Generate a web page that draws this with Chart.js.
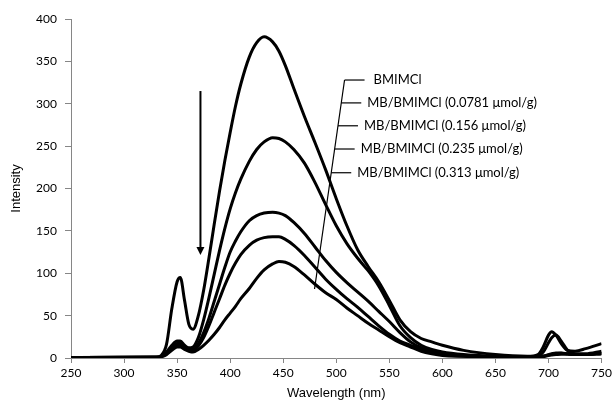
<!DOCTYPE html>
<html>
<head>
<meta charset="utf-8">
<script src="https://cdn.jsdelivr.net/npm/chart.js@4.4.1/dist/chart.umd.min.js"></script>
<style>
  html, body { margin: 0; padding: 0; background: #fff; }
  #chart { display: block; }
</style>
</head>
<body>
<canvas id="chart" width="615" height="411"></canvas>
<script>
// wavelength grid (nm)
const wavelengths = [250, 330, 335, 340, 345, 350, 353, 357, 361, 365, 370, 375, 380, 385, 390, 395, 400, 405, 410, 418, 425, 432, 440, 446, 452, 460, 470, 480, 490, 500, 510, 520, 530, 540, 550, 560, 570, 580, 590, 600, 620, 650, 680, 690, 695, 700, 703, 707, 712, 718, 725, 735, 750];

// intensities
const bmimcl = [0.5, 0.8, 3, 16, 58, 90, 95, 68, 40, 34, 50, 80, 118, 158, 197, 233, 266, 297, 323, 355, 372, 379, 373, 362, 345, 318, 285, 254, 222, 188, 156, 128, 108, 90, 68, 45, 31, 23, 19, 15, 9, 4, 2, 4, 13, 27, 31, 27, 17, 9, 8, 11, 17];
const mb0781 = [0.5, 0.8, 2, 7, 15, 20, 20, 15, 12, 13, 24, 45, 71, 99, 127, 153, 176, 195, 211, 232, 246, 255, 260, 259, 255, 246, 230, 207, 181, 156, 135, 118, 103, 85, 62, 38, 24, 15, 10, 7, 4, 2, 1, 2, 7, 18, 24, 27, 20, 9, 5, 5, 8];
const mb156 = [0.5, 0.8, 2, 6, 13, 17, 17, 13, 10, 10, 17, 30, 47, 67, 87, 107, 125, 138, 149, 162, 168, 171, 172, 171, 168, 160, 147, 131, 115, 101, 89, 78, 67, 55, 43, 30, 19, 12, 8, 5, 3, 1.5, 1, 1.5, 2.5, 4, 5, 6, 6, 5, 4, 4, 6];
const mb235 = [0.5, 0.8, 1.5, 5, 11, 15, 15, 12, 9, 9, 14, 24, 38, 54, 70, 86, 100, 112, 122, 133, 139, 142, 143, 143, 140, 133, 121, 107, 93, 81, 70, 60, 49, 38, 28, 20, 15, 10, 6, 4, 2, 1, 1, 1, 2, 3.5, 4.5, 5, 5.5, 5, 4, 4, 5];
const mb313 = [0.5, 0.8, 1.5, 4, 9, 13, 13, 10, 8, 7, 10, 15, 21, 28, 36, 45, 53, 61, 70, 82, 94, 104, 111, 114, 113, 108, 98, 87, 77, 69, 59, 50, 41, 33, 25, 18, 13, 8, 5, 3, 2, 1, 0.8, 1, 1.5, 3, 3.5, 4, 4.5, 4.5, 4, 4, 5];

const seriesNames = ['BMIMCl', 'MB/BMIMCl (0.0781 \u03bcmol/g)', 'MB/BMIMCl (0.156 \u03bcmol/g)', 'MB/BMIMCl (0.235 \u03bcmol/g)', 'MB/BMIMCl (0.313 \u03bcmol/g)'];
const seriesValues = [bmimcl, mb0781, mb156, mb235, mb313];

// callout: leader line ends and label rows, in data units
const leaderTop = [507.8, 328];
const leaderBottom = [479.5, 81.4];
const labelRows = [328, 301, 274, 246.6, 218.6];
// arrow (nm, from, to)
const arrowAt = [372, 315, 121.5];

const axisGray = '#868686';

const calloutPlugin = {
  id: 'callout',
  afterDatasetsDraw(chart) {
    const { ctx } = chart;
    const x = chart.scales.x, y = chart.scales.y;
    const tx = x.getPixelForValue(leaderTop[0]), ty = y.getPixelForValue(leaderTop[1]);
    const bx = x.getPixelForValue(leaderBottom[0]), by = y.getPixelForValue(leaderBottom[1]);
    ctx.save();
    ctx.strokeStyle = '#000';
    ctx.lineWidth = 1.2;
    ctx.beginPath();
    ctx.moveTo(tx, ty);
    ctx.lineTo(bx, by);
    ctx.stroke();

    ctx.font = '13px Lato';
    ctx.fillStyle = '#000';
    ctx.textBaseline = 'middle';
    labelRows.forEach((v, i) => {
      const py = y.getPixelForValue(v);
      const px = tx + (bx - tx) * (py - ty) / (by - ty);
      ctx.beginPath();
      ctx.moveTo(px, py);
      ctx.lineTo(px + 20, py);
      ctx.stroke();
      ctx.fillText(seriesNames[i], px + 20 + (i === 0 ? 9 : 6), py);
    });

    // downward arrow
    const ax = x.getPixelForValue(arrowAt[0]);
    const a1 = y.getPixelForValue(arrowAt[1]);
    const a2 = y.getPixelForValue(arrowAt[2]);
    ctx.lineWidth = 2;
    ctx.beginPath();
    ctx.moveTo(ax, a1);
    ctx.lineTo(ax, a2 - 6);
    ctx.stroke();
    ctx.beginPath();
    ctx.moveTo(ax - 4, a2 - 8);
    ctx.lineTo(ax + 4, a2 - 8);
    ctx.lineTo(ax, a2);
    ctx.closePath();
    ctx.fill();
    ctx.restore();
  }
};

new Chart(document.getElementById('chart'), {
  type: 'line',
  data: {
    labels: wavelengths,
    datasets: seriesValues.map((vals, i) => ({
      label: seriesNames[i],
      data: vals.map((v, j) => ({ x: wavelengths[j], y: v })),
      borderColor: '#000',
      borderWidth: 3,
      pointRadius: 0,
      fill: false,
      cubicInterpolationMode: 'monotone'
    }))
  },
  options: {
    responsive: false,
    animation: false,
    layout: { padding: { left: 0, top: 19, right: 12, bottom: 0 } },
    plugins: { legend: { display: false }, tooltip: { enabled: false } },
    scales: {
      x: {
        type: 'linear',
        min: 250,
        max: 750,
        ticks: { stepSize: 50, color: '#000', font: { family: 'Lato', size: 12 }, padding: 3, maxRotation: 0 },
        grid: { drawOnChartArea: false, drawTicks: true, tickLength: 5, color: axisGray },
        border: { color: axisGray },
        title: { display: true, text: 'Wavelength (nm)', color: '#000', font: { family: 'Liberation Sans', size: 13 }, padding: { top: 0, bottom: 10 } },
        afterFit(s) { s.height = 53; }
      },
      y: {
        min: 0,
        max: 400,
        ticks: { stepSize: 50, color: '#000', font: { family: 'Lato', size: 12 }, padding: 8 },
        grid: { drawOnChartArea: false, drawTicks: true, tickLength: 6, color: axisGray },
        border: { color: axisGray },
        title: { display: true, text: 'Intensity', color: '#000', font: { family: 'Liberation Sans', size: 13 }, padding: { top: 9, bottom: 0 } },
        afterFit(s) { s.width = 71; }
      }
    }
  },
  plugins: [calloutPlugin]
});
</script>
</body>
</html>
